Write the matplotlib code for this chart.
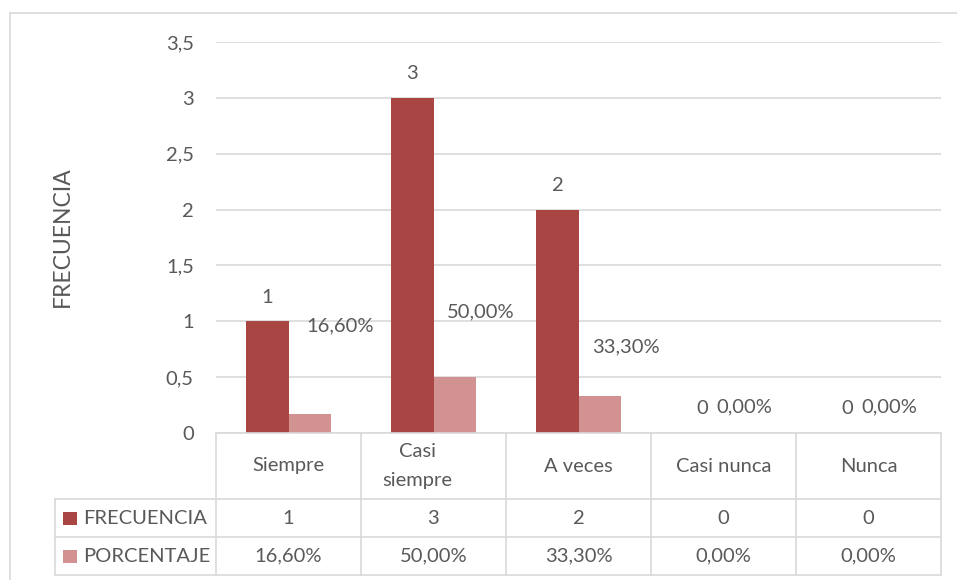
import matplotlib
matplotlib.use("Agg")
import matplotlib.pyplot as plt
import matplotlib.transforms as mtransforms
from matplotlib.patches import Rectangle
import numpy as np

categorias = ["Siempre", "Casi\nsiempre", "A veces", "Casi nunca", "Nunca"]
frecuencia = [1, 3, 2, 0, 0]
porcentaje = [0.166, 0.50, 0.333, 0.0, 0.0]
series = ["FRECUENCIA", "PORCENTAJE"]
yticks = [0, 0.5, 1, 1.5, 2, 2.5, 3, 3.5]

# label offsets in pixels (moved by hand in the original)
pct_offsets = [(31, 89), (26, 65), (26, 49), (0, 26), (0, 26)]

c_frec = "#A94543"
c_pct = "#D29292"
c_text = "#595959"
c_grid = "#D9D9D9"

plt.rcParams["font.family"] = ["Lato", "DejaVu Sans"]
plt.rcParams["font.size"] = 14.5

W, H = 957, 580
fig = plt.figure(figsize=(W / 100, H / 100), dpi=100)


def fx(px):
    return px / W


def fy(py):
    return 1 - py / H


ax = fig.add_axes([fx(216), fy(433), fx(941) - fx(216), fy(42) - fy(433)])

x = np.arange(len(categorias))
w = 0.29
ax.bar(x - w / 2, frecuencia, w, color=c_frec, zorder=3)
ax.bar(x + w / 2, porcentaje, w, color=c_pct, zorder=3)

ax.set_xlim(-0.5, len(categorias) - 0.5)
ax.set_ylim(0, 3.5)
ax.set_yticks(yticks)
ax.set_yticklabels([("%g" % t).replace(".", ",") for t in yticks], color=c_text)
ax.set_xticks([])
ax.tick_params(axis="y", length=0, pad=16)
ax.grid(axis="y", color=c_grid, linewidth=1.2, zorder=0)
for s in ax.spines.values():
    s.set_visible(False)

for i in range(len(categorias)):
    ax.annotate(str(frecuencia[i]), (x[i] - w / 2, frecuencia[i]),
                xytext=(0, 24), textcoords="offset pixels",
                ha="center", va="center", color=c_text)
    lbl = ("%.2f%%" % (porcentaje[i] * 100)).replace(".", ",")
    ax.annotate(lbl, (x[i] + w / 2, porcentaje[i]),
                xytext=pct_offsets[i], textcoords="offset pixels",
                ha="center", va="center", color=c_text)

fig.text(fx(62), fy(237), "FRECUENCIA", rotation=90, ha="center", va="center",
         color=c_text, fontsize=16.5)

# data table under the axis
bt = mtransforms.blended_transform_factory(ax.transData, fig.transFigure)
lkw = dict(color=c_grid, linewidth=1.2, transform=fig.transFigure, clip_on=False)
fig.add_artist(plt.Line2D([fx(216), fx(941)], [fy(433), fy(433)], **lkw))
for yy in [499, 537, 575]:
    fig.add_artist(plt.Line2D([fx(55), fx(941)], [fy(yy), fy(yy)], **lkw))
fig.add_artist(plt.Line2D([fx(55), fx(55)], [fy(499), fy(575)], **lkw))
for b in np.arange(len(categorias) + 1) - 0.5:
    fig.add_artist(plt.Line2D([b, b], [fy(433), fy(575)], color=c_grid,
                              linewidth=1.2, transform=bt, clip_on=False))

for i, cat in enumerate(categorias):
    lines = cat.split("\n")
    tr = bt
    if len(lines) > 1:
        # wrapped label sits a bit left of centre in the original
        tr = bt + mtransforms.ScaledTranslation(-0.16, 0, fig.dpi_scale_trans)
    y0 = 466 - 14.5 * (len(lines) - 1)
    for j, ln in enumerate(lines):
        fig.text(x[i], fy(y0 + 29 * j), ln, transform=tr, ha="center",
                 va="center", color=c_text)
    fig.text(x[i], fy(518), str(frecuencia[i]), transform=bt, ha="center",
             va="center", color=c_text)
    fig.text(x[i], fy(556), ("%.2f%%" % (porcentaje[i] * 100)).replace(".", ","),
             transform=bt, ha="center", va="center", color=c_text)

for name, col, yy in zip(series, [c_frec, c_pct], [518, 556]):
    fig.add_artist(Rectangle((fx(63), fy(yy + 7)), fx(14), fy(0) - fy(13),
                             facecolor=col, edgecolor="none",
                             transform=fig.transFigure))
    fig.text(fx(83), fy(yy), name, ha="left", va="center", color=c_text)

# chart border
fig.add_artist(plt.Line2D([fx(10), fx(10)], [fy(13), 0], **lkw))
fig.add_artist(plt.Line2D([fx(10), 1], [fy(13), fy(13)], **lkw))

fig.savefig("out.png", dpi=100)
